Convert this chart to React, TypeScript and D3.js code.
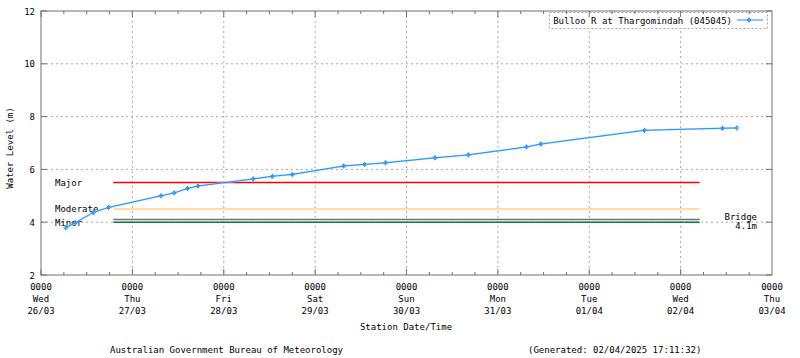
import React from "react";
import * as d3 from "d3";

const times = [
  "2025-03-26T06:30", "2025-03-26T09:00", "2025-03-26T13:45", "2025-03-26T17:45",
  "2025-03-27T07:30", "2025-03-27T11:00", "2025-03-27T14:30", "2025-03-27T17:15",
  "2025-03-28T07:45", "2025-03-28T12:45", "2025-03-28T18:00",
  "2025-03-29T07:30", "2025-03-29T13:00", "2025-03-29T18:30",
  "2025-03-30T07:30", "2025-03-30T16:15",
  "2025-03-31T07:30", "2025-03-31T11:15",
  "2025-04-01T14:30",
  "2025-04-02T11:00", "2025-04-02T14:45",
];
const levels = [
  3.79, 3.98, 4.37, 4.56,
  5.0, 5.11, 5.28, 5.37,
  5.64, 5.74, 5.81,
  6.13, 6.19, 6.25,
  6.44, 6.55,
  6.85, 6.96,
  7.48,
  7.56, 7.57,
];

const dayTicks = [
  "2025-03-26", "2025-03-27", "2025-03-28", "2025-03-29", "2025-03-30",
  "2025-03-31", "2025-04-01", "2025-04-02", "2025-04-03",
];
const dayNames = ["Wed", "Thu", "Fri", "Sat", "Sun", "Mon", "Tue", "Wed", "Thu"];
const dayLabels = ["26/03", "27/03", "28/03", "29/03", "30/03", "31/03", "01/04", "02/04", "03/04"];
const yTicks = [2, 4, 6, 8, 10, 12];

const floodNames = ["Major", "Moderate", "Bridge", "Minor"];
const floodLevels = [5.5, 4.5, 4.1, 4.0];
const floodColors = ["#ff0000", "#ffd080", "#707070", "#008040"];
const floodStart = "2025-03-26T19:00";
const floodEnd = "2025-04-02T05:00";

const seriesName = "Bulloo R at Thargomindah (045045)";
const xTitle = "Station Date/Time";
const yTitle = "Water Level (m)";
const footLeft = "Australian Government Bureau of Meteorology";
const footRight = "(Generated: 02/04/2025 17:11:32)";

const parse = (s: string) => new Date(s.length === 10 ? s + "T00:00Z" : s + "Z");

export default function App() {
  const L = 41, R = 772, T = 11, B = 275;
  const x = d3.scaleUtc().domain([parse(dayTicks[0]), parse(dayTicks[8])]).range([L, R]);
  const y = d3.scaleLinear().domain([2, 12]).range([B, T]);
  const font = "'DejaVu Sans Mono', monospace";
  const pts = times.map((t, i) => [x(parse(t)), y(levels[i])] as [number, number]);
  const line = d3.line()(pts) || "";
  const minorTicks = d3.utcHour.every(6)!.range(parse(dayTicks[0]), parse(dayTicks[8]));
  const gridC = "#a8a8a8";
  const axisC = "#707070";
  const marker = (cx: number, cy: number, k: number) => (
    <g key={k} stroke="#1e90ff" strokeWidth={1} fill="none">
      <path d={`M${cx - 2},${cy}L${cx},${cy - 2}L${cx + 2},${cy}L${cx},${cy + 2}Z`} />
      <line x1={cx} x2={cx} y1={cy - 2.5} y2={cy + 2.5} />
    </g>
  );
  return (
    <svg width={800} height={358} style={{ position: "absolute", left: 0, top: 0, background: "#fff" }}
      fontFamily={font} fontSize={9}>
      <rect width={800} height={358} fill="#fff" />
      {dayTicks.slice(1, 8).map((d, i) => (
        <line key={"vg" + i} x1={x(parse(d))} x2={x(parse(d))} y1={T} y2={B}
          stroke={gridC} strokeDasharray="2,3" />
      ))}
      {yTicks.slice(1, 5).map((v, i) => (
        <line key={"hg" + i} x1={L} x2={R} y1={y(v)} y2={y(v)} stroke={gridC} strokeDasharray="2,3" />
      ))}
      <rect x={549.5} y={12.5} width={218} height={16} fill="#fff" stroke={gridC} strokeDasharray="2,2" />
      <text x={732} y={23.5} textAnchor="end">{seriesName}</text>
      <line x1={737} x2={763} y1={20} y2={20} stroke="#1e90ff" strokeWidth={1} />
      {marker(749, 20, -1)}
      {floodLevels.map((v, i) => (
        <line key={"fl" + i} x1={x(parse(floodStart))} x2={x(parse(floodEnd))} y1={y(v)} y2={y(v)}
          stroke={floodColors[i]} strokeWidth={1.5} />
      ))}
      <text x={55} y={y(floodLevels[0]) + 3.5}>{floodNames[0]}</text>
      <text x={55} y={y(floodLevels[1]) + 3}>{floodNames[1]}</text>
      <text x={55} y={y(floodLevels[3]) + 4}>{floodNames[3]}</text>
      <text x={757} y={y(floodLevels[2])} textAnchor="end">{floodNames[2]}</text>
      <text x={757} y={y(floodLevels[2]) + 9} textAnchor="end">{floodLevels[2] + "m"}</text>
      <path d={line} fill="none" stroke="#a8d4ff" strokeWidth={2} opacity={0.7} />
      <path d={line} fill="none" stroke="#1e90ff" strokeWidth={1} />
      {pts.map((p, i) => marker(p[0], p[1], i))}
      <rect x={L} y={T} width={R - L} height={B - T} fill="none" stroke={axisC} strokeWidth={1} />
      {minorTicks.map((d, i) => {
        const major = d.getUTCHours() === 0;
        const len = major ? 6 : 3;
        return (
          <g key={"xt" + i}>
            <line x1={x(d)} x2={x(d)} y1={B} y2={B - len} stroke={axisC} />
            <line x1={x(d)} x2={x(d)} y1={T} y2={T + len} stroke={axisC} />
          </g>
        );
      })}
      {yTicks.map((v, i) => (
        <g key={"yt" + i}>
          <line x1={L} x2={L + 6} y1={y(v)} y2={y(v)} stroke={axisC} />
          <line x1={R} x2={R - 6} y1={y(v)} y2={y(v)} stroke={axisC} />
          <text x={35} y={y(v) + 3.5} textAnchor="end">{v}</text>
        </g>
      ))}
      {dayTicks.map((d, i) => {
        const xx = x(parse(d));
        return (
          <g key={"xl" + i} textAnchor="middle">
            <text x={xx} y={290}>0000</text>
            <text x={xx} y={302}>{dayNames[i]}</text>
            <text x={xx} y={314}>{dayLabels[i]}</text>
          </g>
        );
      })}
      <text x={406} y={330} textAnchor="middle">{xTitle}</text>
      <text transform={`translate(13,148) rotate(-90)`} textAnchor="middle">{yTitle}</text>
      <text x={110} y={353}>{footLeft}</text>
      <text x={528} y={353}>{footRight}</text>
    </svg>
  );
}
